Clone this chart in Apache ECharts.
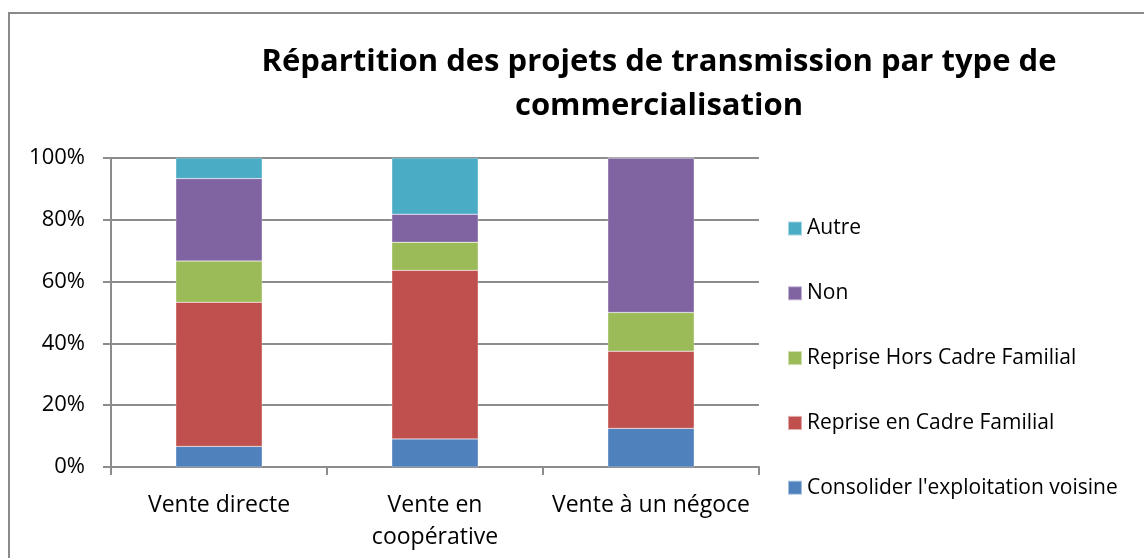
<!DOCTYPE html>
<html>
<head>
<meta charset="utf-8">
<script src="https://cdn.jsdelivr.net/npm/echarts@6/dist/echarts.min.js"></script>
<style>
  html, body { margin: 0; padding: 0; background: #fff; }
  #chart { width: 1144px; height: 558px; }
</style>
</head>
<body>
<div id="chart"></div>
<script>
// catégories et parts (%)
const categories = ['Vente directe', 'Vente en\ncoopérative', 'Vente à un négoce'];
const seriesNames = ['Consolider l\'exploitation voisine', 'Reprise en Cadre Familial', 'Reprise Hors Cadre Familial', 'Non', 'Autre'];
const consolider = [6.67, 9.09, 12.5];
const repriseCadre = [46.67, 54.55, 25];
const repriseHors = [13.33, 9.09, 12.5];
const non = [26.67, 9.09, 50];
const autre = [6.67, 18.18, 0];
const yTicks = [0, 20, 40, 60, 80, 100];

const colors = ['#4F81BD', '#C0504D', '#9BBB59', '#8064A2', '#4BACC6'];
const values = [consolider, repriseCadre, repriseHors, non, autre];
const font = '"Open Sans", sans-serif';
const axisGray = '#8c8c8c';

const chart = echarts.init(document.getElementById('chart'));

const option = {
    animation: false,
    color: colors,
    graphic: [
        {
            // cadre du graphique (bord gauche et haut)
            type: 'rect',
            shape: { x: 9, y: 13, width: 1200, height: 700 },
            style: { fill: 'none', stroke: '#8a8a8a', lineWidth: 2 },
            silent: true
        },
        {
            type: 'text',
            x: 659,
            y: 40,
            style: {
                text: 'Répartition des projets de transmission par type de\ncommercialisation',
                textAlign: 'center',
                textVerticalAlign: 'top',
                fontFamily: font,
                fontWeight: 'bold',
                fontSize: 31,
                lineHeight: 44,
                fill: '#000'
            }
        }
    ],
    grid: {
        left: 111,
        right: 385,
        top: 158,
        bottom: 91
    },
    legend: {
        orient: 'vertical',
        left: 782,
        top: 213,
        itemWidth: 14,
        itemHeight: 14,
        itemGap: 43.8,
        icon: 'rect',
        data: seriesNames.slice().reverse(),
        textStyle: { fontFamily: font, fontSize: 21, color: '#000' }
    },
    xAxis: {
        type: 'category',
        data: categories,
        axisLine: { lineStyle: { color: axisGray, width: 2 } },
        axisTick: { show: true, length: 8, lineStyle: { color: axisGray, width: 2 } },
        axisLabel: {
            fontFamily: font,
            fontSize: 23,
            color: '#000',
            margin: 22,
            lineHeight: 32,
            interval: 0
        }
    },
    yAxis: {
        type: 'value',
        min: 0,
        max: 100,
        interval: 20,
        axisLine: { show: true, lineStyle: { color: axisGray, width: 2 } },
        axisTick: { show: true, length: 8, lineStyle: { color: axisGray, width: 2 } },
        splitLine: { lineStyle: { color: axisGray, width: 2 } },
        axisLabel: {
            fontFamily: font,
            fontSize: 22,
            color: '#000',
            margin: 26,
            formatter: v => yTicks.includes(v) ? v + '%' : ''
        }
    },
    series: seriesNames.map((name, i) => ({
        name: name,
        type: 'bar',
        stack: 'total',
        barWidth: '40%',
        data: values[i],
        itemStyle: { color: colors[i], borderColor: 'rgba(255,255,255,0.5)', borderWidth: 0.5 }
    }))
};

chart.setOption(option);
</script>
</body>
</html>
